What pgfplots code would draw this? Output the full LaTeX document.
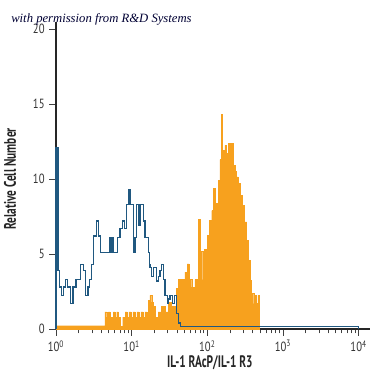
\documentclass[border=0pt]{standalone}
\usepackage{pgfplots}
\pgfplotsset{compat=1.18}
\usepackage{fontspec}
\setmainfont{PT Sans}[FakeStretch=0.8]
\newfontfamily\labfont{PT Sans}[FakeStretch=0.68]
\newfontfamily\permfont{Liberation Serif}
\definecolor{histblue}{RGB}{32,88,128}
\definecolor{historange}{RGB}{247,161,30}
\begin{document}
\begin{tikzpicture}
\useasboundingbox (-42pt,-34.5pt) rectangle (239.25pt,246.75pt);
\begin{axis}[
  at={(0,0)}, anchor=south west,
  scale only axis, width=235.5pt, height=230.5pt,
  xmin=0, xmax=4.15, ymin=0, ymax=20.5,
  axis x line*=bottom, axis y line*=left,
  axis line style={-, black!85, line width=0.8pt},
  tick align=outside,
  major tick length=5pt, minor tick length=3.2pt,
  tick style={black!75, line width=0.6pt},
  xtick={0,1,2,3,4},
  xticklabels={10\textsuperscript{0},10\textsuperscript{1},10\textsuperscript{2},10\textsuperscript{3},10\textsuperscript{4}},
  minor xtick={0.301,0.477,0.602,0.699,0.778,0.845,0.903,0.954,
               1.301,1.477,1.602,1.699,1.778,1.845,1.903,1.954,
               2.301,2.477,2.602,2.699,2.778,2.845,2.903,2.954,
               3.301,3.477,3.602,3.699,3.778,3.845,3.903,3.954},
  ytick={0,5,10,15,20},
  /pgf/number format/assume math mode=true,
  tick label style={font=\fontsize{10}{11}\selectfont, text=black!80},
  xlabel={IL-1 RAcP/IL-1 R3},
  ylabel={Relative Cell Number},
  every axis x label/.style={at={(axis description cs:0.49,-0.11)}, anchor=center, font=\labfont\bfseries\fontsize{12.5}{13}\selectfont, text=black!85},
  every axis y label/.style={at={(axis description cs:-0.1465,0.488)}, anchor=center, rotate=90, font=\labfont\bfseries\fontsize{12.5}{13}\selectfont, text=black!85},
  clip=false,
]
\addplot[const plot, fill=historange, draw=historange, line width=0.2pt] coordinates {
(0,0.22) (0.647,1.15) (0.670,0.8) (0.691,1.15) (0.713,0.8) (0.757,1.15) (0.779,0.8)
(0.802,1.15) (0.823,0.8) (0.845,0.2) (0.881,0.8) (0.912,1.15) (0.938,0.8) (0.964,1.15)
(0.991,0.8) (1.017,1.15) (1.044,0.8) (1.070,1.15) (1.096,0.8) (1.123,1.15) (1.149,0.8)
(1.176,1.15) (1.202,0.8) (1.219,1.9) (1.242,2.25) (1.264,1.8) (1.285,1.5) (1.308,0.8)
(1.351,1.15) (1.396,1.5) (1.440,1.15) (1.483,1.8) (1.528,1.5) (1.572,1.15) (1.594,2.7)
(1.616,3.3) (1.704,3.8) (1.734,4.35) (1.761,3.3) (1.793,2.8) (1.836,3.3) (1.880,7.3)
(1.911,5.2) (1.938,3.3) (1.964,5.3) (1.999,6.25) (2.025,7.25) (2.057,7.9) (2.078,9.4)
(2.100,8.4) (2.144,9.9) (2.166,11.3) (2.189,14.3) (2.202,11.9) (2.232,12.25) (2.255,11.7)
(2.276,12.4) (2.299,11.4) (2.321,12.4) (2.342,10.9) (2.365,10.5) (2.387,10.15) (2.408,9.7)
(2.431,8.9) (2.461,8.25) (2.487,7.15) (2.519,5.9) (2.540,4.6) (2.563,3.25) (2.585,2.4)
(2.612,1.7) (2.629,2.25) (2.651,1.7) (2.669,2.25) (2.683,0)
} \closedcycle;
\addplot[const plot, draw=histblue, line width=1pt] coordinates {
(0,0) (0,12.1) (0.026,3.9) (0.044,2.8) (0.070,2.25) (0.102,2.8) (0.123,3.3) (0.155,2.8)
(0.189,1.7) (0.225,2.8) (0.264,3.3) (0.321,4.3) (0.366,3.9) (0.387,2.25) (0.423,2.8)
(0.440,3.3) (0.466,4.3) (0.498,6.2) (0.532,7.2) (0.564,6.2) (0.585,5.1) (0.704,6.1)
(0.723,5.1) (0.740,6.1) (0.762,5.1) (0.815,6.1) (0.845,6.7) (0.876,7.2) (0.902,6.7)
(0.934,8.3) (0.964,9.3) (0.987,8.3) (1.021,5.1) (1.044,6.1) (1.066,8.3) (1.087,6.9)
(1.110,8.3) (1.153,7.2) (1.176,6.1) (1.219,5.1) (1.233,4.3) (1.242,4.1) (1.264,3.5)
(1.285,4.1) (1.330,3.2) (1.351,3.5) (1.374,3.9) (1.396,4.3) (1.417,3.3) (1.440,2.25)
(1.476,1.7) (1.489,2.0) (1.506,2.25) (1.536,1.7) (1.563,2.25) (1.595,1.05) (1.616,0.4)
(1.647,0.15) (4.0,0)
};
\end{axis}
\node[anchor=base west, inner sep=0pt, text=black!80!blue, font=\permfont\itshape\fontsize{9.5}{10}\selectfont] at (-33.75pt,229.5pt) {with permission from R\&D Systems};
\end{tikzpicture}
\end{document}
